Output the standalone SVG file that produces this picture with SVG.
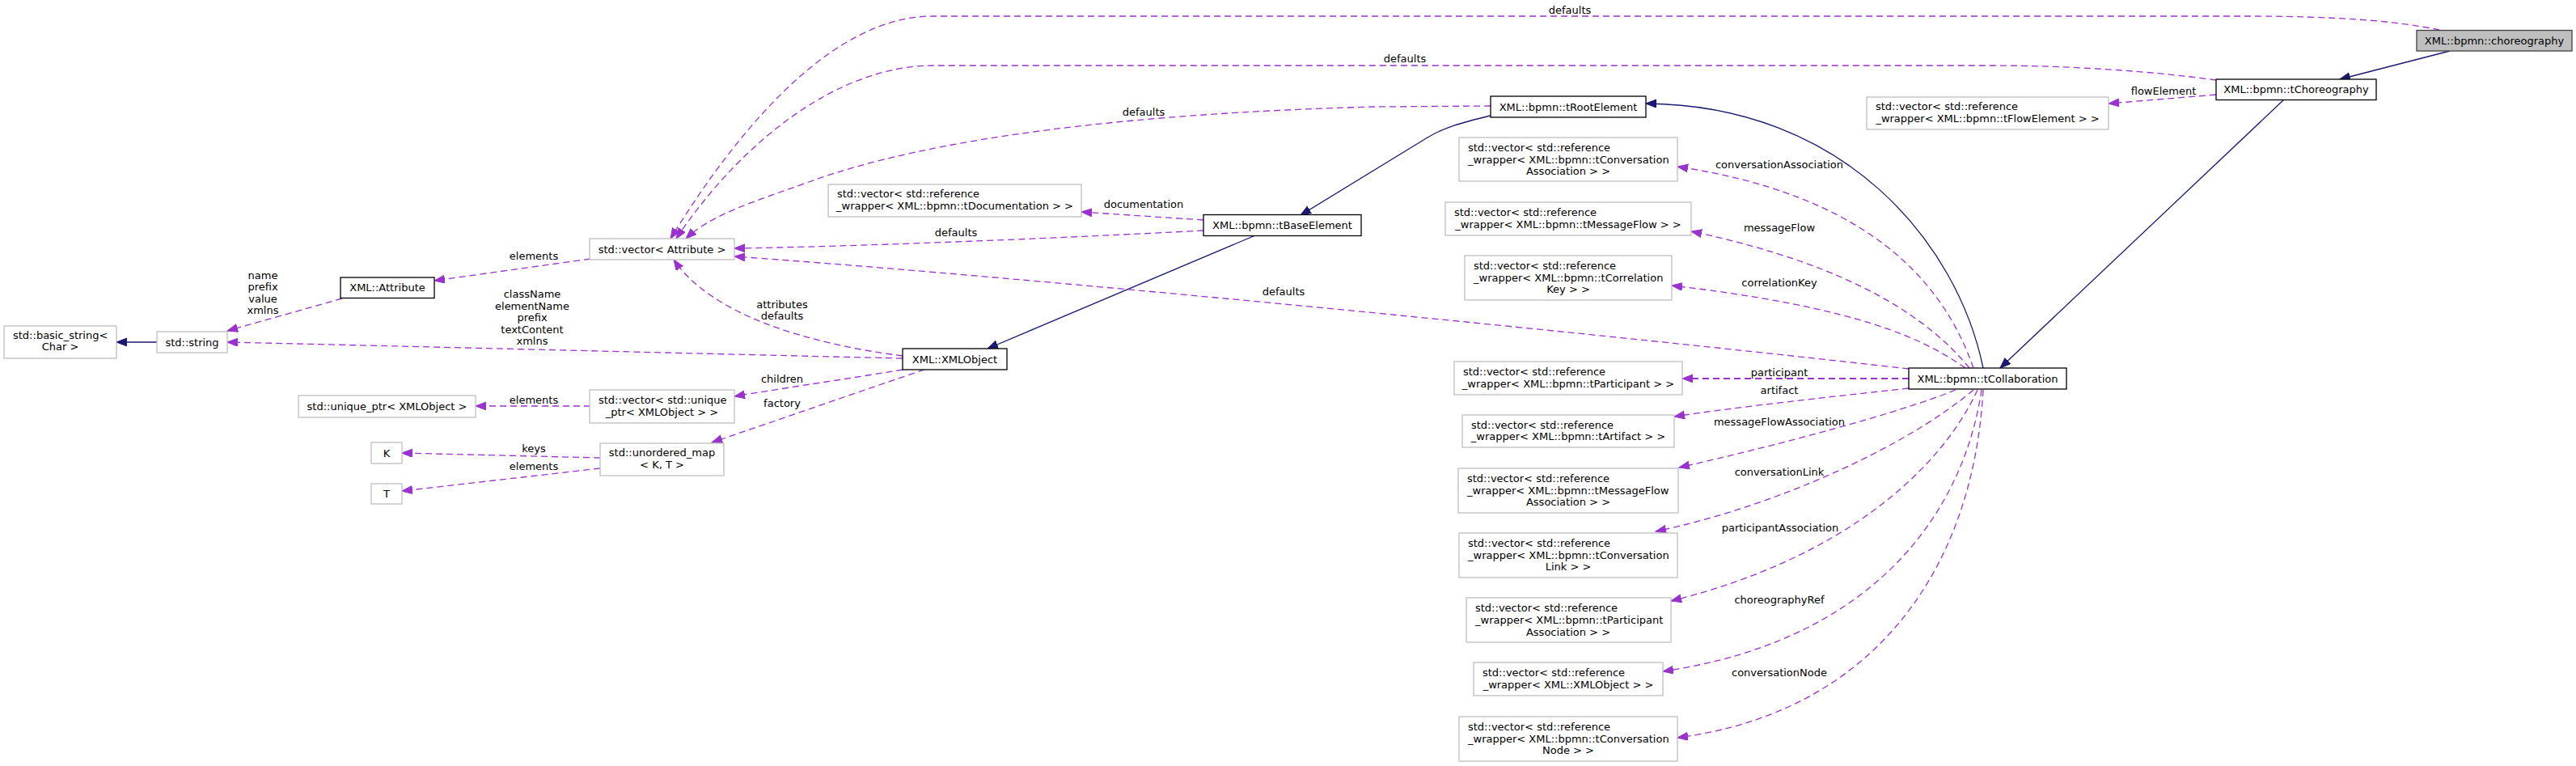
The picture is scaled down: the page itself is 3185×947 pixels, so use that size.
<svg xmlns="http://www.w3.org/2000/svg" width="3185" height="947" viewBox="0 0 3185 947">
<style>
text{font-family:"DejaVu Sans","Liberation Sans",sans-serif;font-size:13px;fill:#000}
.m{text-anchor:middle}
.s{text-anchor:start}
.nd rect{fill:#fff;stroke:#000;stroke-width:1.3}
.ng rect{fill:#fff;stroke:#bfbfbf;stroke-width:1.3}
.nm rect{fill:#bfbfbf;stroke:#404040;stroke-width:1.3}
.u{fill:none;stroke:#9a32cd;stroke-width:1.3;stroke-dasharray:8,5;marker-end:url(#ap)}
.i{fill:none;stroke:#191970;stroke-width:1.3;marker-end:url(#ab)}
</style>
<defs>
<marker id="ap" markerUnits="userSpaceOnUse" markerWidth="14" markerHeight="11" refX="13" refY="5" orient="auto"><path d="M0,0 L13,5 L0,10 z" fill="#9a32cd" stroke="#9a32cd"/></marker>
<marker id="ab" markerUnits="userSpaceOnUse" markerWidth="14" markerHeight="11" refX="13" refY="5" orient="auto"><path d="M0,0 L13,5 L0,10 z" fill="#191970" stroke="#191970"/></marker>
</defs>
<rect width="3185" height="947" fill="#fff"/>
<g id="connectors">
<path class="i" d="M3029,63 L2893,98"/>
<path class="i" d="M2824,123 L2473,455"/>
<path class="i" d="M2452,455 C2420,300 2280,130 2035,128"/>
<path class="i" d="M1843,143 C1805,152 1785,158 1765,170 L1608,266"/>
<path class="i" d="M1552,291 L1221,431"/>
<path class="i" d="M194,423 L144,423"/>
<path class="u" d="M3016,37 C2960,25 2880,20 2780,20 L1153,20 C1020,20 900,180 829,295"/>
<path class="u" d="M2740,99 C2660,88 2560,81 2460,81 L1153,81 C1040,81 920,170 836,295"/>
<path class="u" d="M1843,131 L1700,132 C1400,140 1150,170 1000,225 C930,250 880,265 848,295"/>
<path class="u" d="M1488,285 C1300,295 1050,305 908,307"/>
<path class="u" d="M2360,456 C2000,415 1300,345 908,317"/>
<path class="u" d="M1116,440 C1000,425 880,390 833,321"/>
<path class="u" d="M1116,443 C900,438 500,428 281,423"/>
<path class="u" d="M1116,457 C1050,468 980,478 908,490"/>
<path class="u" d="M1143,457 C1080,478 960,520 880,547"/>
<path class="u" d="M730,320 L537,347"/>
<path class="u" d="M423,369 L281,409"/>
<path class="u" d="M730,502 L588,502"/>
<path class="u" d="M742,566 L497,560"/>
<path class="u" d="M742,579 L497,607"/>
<path class="u" d="M1488,272 L1337,262"/>
<path class="u" d="M2740,117 L2607,128"/>
<path class="u" d="M2440,455 C2400,340 2300,240 2074,206"/>
<path class="u" d="M2435,455 C2390,400 2300,330 2091,286"/>
<path class="u" d="M2430,455 C2380,420 2300,380 2067,353"/>
<path class="u" style="stroke-width:2" d="M2360,468 L2080,468"/>
<path class="u" d="M2360,480 C2250,492 2150,503 2070,515"/>
<path class="u" d="M2418,482 C2350,510 2200,550 2076,578"/>
<path class="u" d="M2440,482 C2360,550 2200,625 2047,657"/>
<path class="u" d="M2445,482 C2400,580 2280,690 2066,743"/>
<path class="u" d="M2450,482 C2430,620 2330,790 2056,830"/>
<path class="u" d="M2452,482 C2440,700 2320,880 2074,912"/>
<text class="m" x="1941" y="17">defaults</text>
<text class="m" x="1737" y="77">defaults</text>
<text class="m" x="1414" y="143">defaults</text>
<text class="m" x="1414" y="257">documentation</text>
<text class="m" x="1182" y="292">defaults</text>
<text class="m" x="1587" y="365">defaults</text>
<text class="m" x="660" y="321">elements</text>
<text class="m" x="325" y="345">name</text>
<text class="m" x="325" y="359">prefix</text>
<text class="m" x="325" y="374">value</text>
<text class="m" x="325" y="388">xmlns</text>
<text class="m" x="658" y="368">className</text>
<text class="m" x="658" y="383">elementName</text>
<text class="m" x="658" y="397">prefix</text>
<text class="m" x="658" y="412">textContent</text>
<text class="m" x="658" y="426">xmlns</text>
<text class="m" x="967" y="381">attributes</text>
<text class="m" x="967" y="395">defaults</text>
<text class="m" x="967" y="473">children</text>
<text class="m" x="967" y="503">factory</text>
<text class="m" x="660" y="499">elements</text>
<text class="m" x="660" y="559">keys</text>
<text class="m" x="660" y="581">elements</text>
<text class="m" x="2675" y="117">flowElement</text>
<text class="m" x="2200" y="208">conversationAssociation</text>
<text class="m" x="2200" y="286">messageFlow</text>
<text class="m" x="2200" y="354">correlationKey</text>
<text class="m" x="2200" y="465">participant</text>
<text class="m" x="2200" y="487">artifact</text>
<text class="m" x="2200" y="526">messageFlowAssociation</text>
<text class="m" x="2200" y="588">conversationLink</text>
<text class="m" x="2201" y="657">participantAssociation</text>
<text class="m" x="2200" y="746">choreographyRef</text>
<text class="m" x="2200" y="836">conversationNode</text>
</g>
<g id="n_choreography" class="nm"><rect x="2988" y="37.5" width="192" height="25.5"/><text class="m" x="3084" y="54.5">XML::bpmn::choreography</text></g>
<g id="n_tChoreography" class="nd"><rect x="2740" y="98" width="198" height="25.5"/><text class="m" x="2839" y="115">XML::bpmn::tChoreography</text></g>
<g id="n_vecFlowElement" class="ng"><rect x="2308" y="120" width="299" height="40"/><text class="s" x="2319" y="136">std::vector&lt; std::reference</text><text class="m" x="2457.5" y="151">_wrapper&lt; XML::bpmn::tFlowElement &gt; &gt;</text></g>
<g id="n_tRootElement" class="nd"><rect x="1843" y="119" width="192" height="26"/><text class="m" x="1939" y="136.5">XML::bpmn::tRootElement</text></g>
<g id="n_vecConvAssoc" class="ng"><rect x="1804" y="170" width="270" height="54"/><text class="s" x="1815" y="187">std::vector&lt; std::reference</text><text class="s" x="1815" y="201.5">_wrapper&lt; XML::bpmn::tConversation</text><text class="m" x="1939" y="216">Association &gt; &gt;</text></g>
<g id="n_vecMessageFlow" class="ng"><rect x="1787" y="250" width="304" height="41"/><text class="s" x="1798" y="267">std::vector&lt; std::reference</text><text class="m" x="1939" y="282">_wrapper&lt; XML::bpmn::tMessageFlow &gt; &gt;</text></g>
<g id="n_vecCorrelationKey" class="ng"><rect x="1811" y="316" width="256" height="55"/><text class="s" x="1822" y="333">std::vector&lt; std::reference</text><text class="s" x="1822" y="348">_wrapper&lt; XML::bpmn::tCorrelation</text><text class="m" x="1939" y="362">Key &gt; &gt;</text></g>
<g id="n_vecParticipant" class="ng"><rect x="1798" y="447" width="282" height="41"/><text class="s" x="1809" y="464">std::vector&lt; std::reference</text><text class="m" x="1939" y="479">_wrapper&lt; XML::bpmn::tParticipant &gt; &gt;</text></g>
<g id="n_vecArtifact" class="ng"><rect x="1808" y="513" width="262" height="40"/><text class="s" x="1819" y="530">std::vector&lt; std::reference</text><text class="m" x="1939" y="544">_wrapper&lt; XML::bpmn::tArtifact &gt; &gt;</text></g>
<g id="n_vecMsgFlowAssoc" class="ng"><rect x="1803" y="579" width="272" height="55"/><text class="s" x="1814" y="596">std::vector&lt; std::reference</text><text class="s" x="1814" y="611">_wrapper&lt; XML::bpmn::tMessageFlow</text><text class="m" x="1939" y="625">Association &gt; &gt;</text></g>
<g id="n_vecConvLink" class="ng"><rect x="1804" y="659" width="270" height="55"/><text class="s" x="1815" y="676">std::vector&lt; std::reference</text><text class="s" x="1815" y="691">_wrapper&lt; XML::bpmn::tConversation</text><text class="m" x="1939" y="705">Link &gt; &gt;</text></g>
<g id="n_vecPartAssoc" class="ng"><rect x="1813" y="739" width="253" height="55"/><text class="s" x="1824" y="756">std::vector&lt; std::reference</text><text class="s" x="1824" y="771">_wrapper&lt; XML::bpmn::tParticipant</text><text class="m" x="1939" y="786">Association &gt; &gt;</text></g>
<g id="n_vecXMLObjectRef" class="ng"><rect x="1822" y="819" width="234" height="41"/><text class="s" x="1833" y="836">std::vector&lt; std::reference</text><text class="m" x="1939" y="851">_wrapper&lt; XML::XMLObject &gt; &gt;</text></g>
<g id="n_vecConvNode" class="ng"><rect x="1804" y="886" width="270" height="55"/><text class="s" x="1815" y="903">std::vector&lt; std::reference</text><text class="s" x="1815" y="918">_wrapper&lt; XML::bpmn::tConversation</text><text class="m" x="1939" y="932">Node &gt; &gt;</text></g>
<g id="n_tCollaboration" class="nd"><rect x="2360" y="455" width="195" height="26"/><text class="m" x="2457.5" y="472.5">XML::bpmn::tCollaboration</text></g>
<g id="n_tBaseElement" class="nd"><rect x="1488" y="265.5" width="195" height="26"/><text class="m" x="1585.5" y="283">XML::bpmn::tBaseElement</text></g>
<g id="n_vecDocumentation" class="ng"><rect x="1024" y="228" width="313" height="40"/><text class="s" x="1035" y="244">std::vector&lt; std::reference</text><text class="m" x="1180.5" y="259">_wrapper&lt; XML::bpmn::tDocumentation &gt; &gt;</text></g>
<g id="n_XMLObject" class="nd"><rect x="1116" y="431" width="129" height="26"/><text class="m" x="1180.5" y="448.5">XML::XMLObject</text></g>
<g id="n_vecAttribute" class="ng"><rect x="729" y="295" width="179" height="26"/><text class="m" x="818.5" y="312.5">std::vector&lt; Attribute &gt;</text></g>
<g id="n_vecUniquePtr" class="ng"><rect x="729" y="482" width="179" height="41"/><text class="s" x="740" y="499">std::vector&lt; std::unique</text><text class="m" x="818.5" y="514">_ptr&lt; XMLObject &gt; &gt;</text></g>
<g id="n_unorderedMap" class="ng"><rect x="742" y="548" width="153" height="40"/><text class="m" x="818.5" y="564">std::unordered_map</text><text class="m" x="818.5" y="579">&lt; K, T &gt;</text></g>
<g id="n_Attribute" class="nd"><rect x="421" y="343" width="116" height="25.5"/><text class="m" x="479" y="360">XML::Attribute</text></g>
<g id="n_string" class="ng"><rect x="194" y="410" width="87" height="26"/><text class="m" x="237.5" y="427.5">std::string</text></g>
<g id="n_basicString" class="ng"><rect x="5" y="403" width="139" height="40"/><text class="s" x="16" y="419">std::basic_string&lt;</text><text class="m" x="74.5" y="433">Char &gt;</text></g>
<g id="n_uniquePtr" class="ng"><rect x="369" y="489" width="219" height="27"/><text class="m" x="478.5" y="507">std::unique_ptr&lt; XMLObject &gt;</text></g>
<g id="n_K" class="ng"><rect x="459" y="547" width="38" height="26"/><text class="m" x="478" y="564.5">K</text></g>
<g id="n_T" class="ng"><rect x="459" y="598" width="38" height="25"/><text class="m" x="478" y="615">T</text></g>
</svg>
